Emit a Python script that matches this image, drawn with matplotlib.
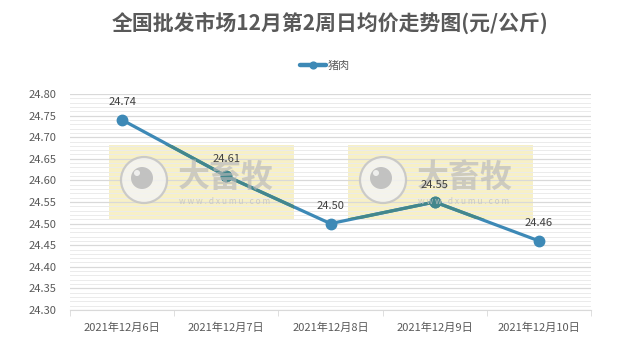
import matplotlib
matplotlib.use("Agg")
import matplotlib.pyplot as plt
from matplotlib.patches import Rectangle, Ellipse
from matplotlib.ticker import MultipleLocator, FormatStrFormatter

plt.rcParams['font.family'] = ['Noto Sans CJK SC', 'DejaVu Sans']

categories = ["2021年12月6日", "2021年12月7日", "2021年12月8日", "2021年12月9日", "2021年12月10日"]
values = [24.74, 24.61, 24.50, 24.55, 24.46]
series_name = "猪肉"
title = "全国批发市场12月第2周日均价走势图(元/公斤)"
y_min, y_max = 24.30, 24.80

W, H = 630, 357
fig = plt.figure(figsize=(W / 100, H / 100), dpi=100)
ax = fig.add_axes([70 / W, 1 - 310 / H, (591 - 70) / W, (310 - 94) / H])

line_color = "#3D89B6"
tinted_color = "#43878C"
x = list(range(len(categories)))
ax.plot(x, values, color=line_color, lw=2.3, marker="o", markersize=7.5,
        label=series_name, zorder=3, solid_capstyle="round")

# watermark boxes (under grid), with a tinted copy of the line clipped to them
boxes = []
for x0 in (109, 348):
    r = Rectangle((x0 / W, 1 - 219 / H), 185 / W, 74 / H, transform=fig.transFigure,
                  facecolor="#F7F0C6", edgecolor="none", zorder=0.1, clip_on=False)
    ax.add_patch(r)
    boxes.append(r)
for r in boxes:
    clip = Rectangle(r.get_xy(), r.get_width(), r.get_height(), transform=fig.transFigure,
                     facecolor="none", edgecolor="none")
    ln, = ax.plot(x, values, color=tinted_color, lw=2.3, marker="o", markersize=7.5,
                  zorder=3.1, solid_capstyle="round")
    ln.set_clip_path(clip)

for x0 in (109, 348):
    cx, cy = (x0 + 35) / W, 1 - 180 / H
    ax.add_patch(Ellipse((cx, cy), 46 / W, 46 / H, transform=fig.transFigure,
                         facecolor="#F4F4F2", edgecolor="#C4C4C4", lw=1.6,
                         alpha=0.85, zorder=4, clip_on=False))
    ax.add_patch(Ellipse((cx - 2 / W, cy + 2 / H), 22 / W, 22 / H, transform=fig.transFigure,
                         facecolor="#BDBDBD", edgecolor="none", alpha=0.9, zorder=4.1, clip_on=False))
    ax.add_patch(Ellipse((cx - 7 / W, cy + 7 / H), 6 / W, 6 / H, transform=fig.transFigure,
                         facecolor="#F4F4F2", edgecolor="none", alpha=0.9, zorder=4.2, clip_on=False))
    ax.text((x0 + 69) / W, 1 - 178 / H, "大畜牧", transform=fig.transFigure, fontsize=23,
            fontweight="bold", color="#B8B8B8", alpha=0.65, va="center", ha="left", zorder=4)
    ax.text((x0 + 70) / W, 1 - 201 / H, "w w w . d x u m u . c o m", transform=fig.transFigure,
            fontsize=6, color="#C4C4C4", alpha=0.85, va="center", ha="left", zorder=4)

for xi, v in zip(x, values):
    ax.annotate(f"{v:.2f}", (xi, v), xytext=(0, 9), textcoords="offset points",
                ha="center", va="bottom", fontsize=8, color="#404040", zorder=6)

ax.set_xlim(-0.5, len(categories) - 0.5)
ax.set_ylim(y_min, y_max)
ax.yaxis.set_major_locator(MultipleLocator(0.05))
ax.yaxis.set_minor_locator(MultipleLocator(0.01))
ax.yaxis.set_major_formatter(FormatStrFormatter("%.2f"))
ax.grid(axis="y", which="major", color="#D9D9D9", lw=0.9)
ax.grid(axis="y", which="minor", color="#EBEBEB", lw=0.7)
ax.set_axisbelow(True)
ax.set_xticks(x)
ax.set_xticklabels(categories, fontsize=8, color="#595959")
ax.set_xticks([i - 0.5 for i in range(len(categories) + 1)], minor=True)
ax.tick_params(axis="x", which="major", length=0, pad=9)
ax.tick_params(axis="x", which="minor", length=4, color="#D9D9D9")
ax.tick_params(axis="y", which="both", length=0, labelsize=8, labelcolor="#595959", pad=10)
for s in ["top", "right", "left"]:
    ax.spines[s].set_visible(False)
ax.spines["bottom"].set_color("#D9D9D9")

fig.text(330 / W, 1 - 23 / H, title, ha="center", va="center", fontsize=15,
         fontweight="bold", color="#595959")
leg = fig.legend(loc="center", bbox_to_anchor=(325 / W, 1 - 66 / H), frameon=False,
                 fontsize=8, handlelength=2.3, handletextpad=0.2, markerscale=0.65)
for t in leg.get_texts():
    t.set_color("#595959")
for h in leg.legend_handles:
    h.set_linewidth(3.2)

fig.savefig("out.png", dpi=100)
